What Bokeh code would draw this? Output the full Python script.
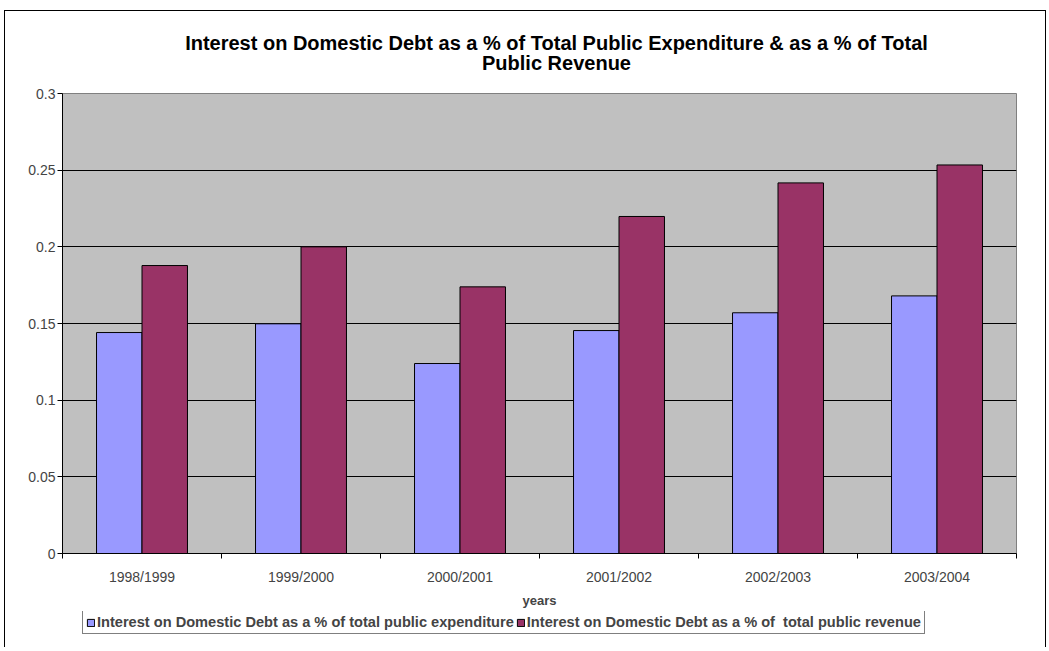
from bokeh.plotting import figure
from bokeh.layouts import column
from bokeh.models import ColumnDataSource, Range1d, FixedTicker, Legend, LegendItem, Label
from bokeh.transform import dodge
from bokeh.embed import file_html
from bokeh.resources import INLINE

years = ["1998/1999", "1999/2000", "2000/2001", "2001/2002", "2002/2003", "2003/2004"]
pct_expenditure = [0.1441, 0.1498, 0.1239, 0.1454, 0.1570, 0.1680]
pct_revenue = [0.1878, 0.2000, 0.1739, 0.2198, 0.2417, 0.2534]
y_ticks = [0, 0.05, 0.1, 0.15, 0.2, 0.25, 0.3]
y_tick_labels = ["0", "0.05", "0.1", "0.15", "0.2", "0.25", "0.3"]
series_names = ["Interest on Domestic Debt as a % of total public expenditure",
                "Interest on Domestic Debt as a % of  total public revenue"]
title_lines = ["Interest on Domestic Debt as a % of Total Public Expenditure & as a % of Total",
               "Public Revenue"]

FONT = "Liberation Sans"
BLUE = "#9999FF"
MAROON = "#993366"
W = 1040
BL, BR = 57, 29           # side borders shared by all three strips
FW = W - BL - BR          # frame width in pixels


def blank(height):
    f = figure(width=W, height=height, output_backend="svg", toolbar_location=None,
               x_axis_location=None, y_axis_location=None,
               x_range=Range1d(0, FW), y_range=Range1d(0, height),
               min_border_left=BL, min_border_right=BR, min_border_top=0, min_border_bottom=0)
    f.grid.visible = False
    f.outline_line_color = None
    f.background_fill_color = "white"
    f.border_fill_color = "white"
    return f


# ---- title strip ----
TH = 70
pt = blank(TH)
for line, ypos in zip(title_lines, [39, 19]):
    pt.add_layout(Label(x=494, y=ypos, text=line, text_font=FONT, text_font_size="20px",
                        text_font_style="bold", text_align="center", text_baseline="middle",
                        text_color="black"))

# ---- main chart ----
pos = [i + 0.5 for i in range(len(years))]
src = ColumnDataSource(dict(x=pos, exp=pct_expenditure, rev=pct_revenue))

p = figure(width=W, height=530, output_backend="svg", toolbar_location=None,
           x_range=Range1d(0, len(years)), y_range=Range1d(0, 0.3),
           min_border_left=BL, min_border_right=BR, min_border_top=12, min_border_bottom=58)
p.background_fill_color = "#C0C0C0"
p.border_fill_color = "white"
p.outline_line_color = "#808080"
p.outline_line_width = 1

bw = 0.286
r1 = p.vbar(x=dodge("x", -bw / 2, range=p.x_range), top="exp", width=bw, source=src,
            fill_color=BLUE, line_color="black", line_width=1)
r2 = p.vbar(x=dodge("x", bw / 2, range=p.x_range), top="rev", width=bw, source=src,
            fill_color=MAROON, line_color="black", line_width=1)

p.yaxis.ticker = FixedTicker(ticks=y_ticks)
p.yaxis.major_label_overrides = {t: l for t, l in zip(y_ticks, y_tick_labels)}
p.yaxis.axis_line_color = "black"
p.yaxis.major_tick_in = 0
p.yaxis.major_tick_out = 5
p.yaxis.minor_tick_line_color = None
p.yaxis.major_label_text_font = FONT
p.yaxis.major_label_text_font_size = "14px"
p.yaxis.major_label_standoff = 2

p.xaxis.ticker = FixedTicker(ticks=pos, minor_ticks=list(range(len(years) + 1)))
p.xaxis.major_label_overrides = {x: y for x, y in zip(pos, years)}
p.xaxis.axis_line_color = "black"
p.xaxis.major_tick_line_color = None
p.xaxis.major_tick_in = 0
p.xaxis.major_tick_out = 0
p.xaxis.minor_tick_in = 0
p.xaxis.minor_tick_out = 5
p.xaxis.minor_tick_line_color = "black"
p.xaxis.major_label_text_font = FONT
p.xaxis.major_label_text_font_size = "14px"
p.xaxis.major_label_standoff = 10
p.xaxis.axis_label = "years"
p.xaxis.axis_label_text_font = FONT
p.xaxis.axis_label_text_font_size = "13px"
p.xaxis.axis_label_text_font_style = "bold"
p.xaxis.axis_label_standoff = 5

p.xgrid.grid_line_color = None
p.ygrid.ticker = FixedTicker(ticks=y_ticks)
p.ygrid.grid_line_color = "black"
p.ygrid.grid_line_width = 1

# ---- legend strip (swatch glyphs sit outside the visible range) ----
LH = 36
pl = blank(LH)
swatch = ColumnDataSource(dict(x=[-50], top=[0]))
g1 = pl.vbar(x="x", top="top", width=1, source=swatch, fill_color=BLUE, line_color="black")
g2 = pl.vbar(x="x", top="top", width=1, source=swatch, fill_color=MAROON, line_color="black")
legend = Legend(items=[LegendItem(label=series_names[0], renderers=[g1]),
                       LegendItem(label=series_names[1], renderers=[g2])],
                orientation="horizontal", location=(20, 13),
                label_text_font=FONT, label_text_font_size="14.6px", label_text_font_style="bold",
                glyph_width=9, glyph_height=9, label_standoff=2, spacing=2,
                padding=3, margin=0, border_line_color="black", border_line_width=1,
                label_height=15, background_fill_color="white")
pl.add_layout(legend, "center")

layout = column(pt, p, pl, spacing=0, margin=(10, 0, 0, 4))
layout.styles = {"border-left": "1px solid black", "border-top": "1px solid black",
                 "border-right": "1px solid black"}

open("out.html", "w").write(file_html(layout, INLINE))
